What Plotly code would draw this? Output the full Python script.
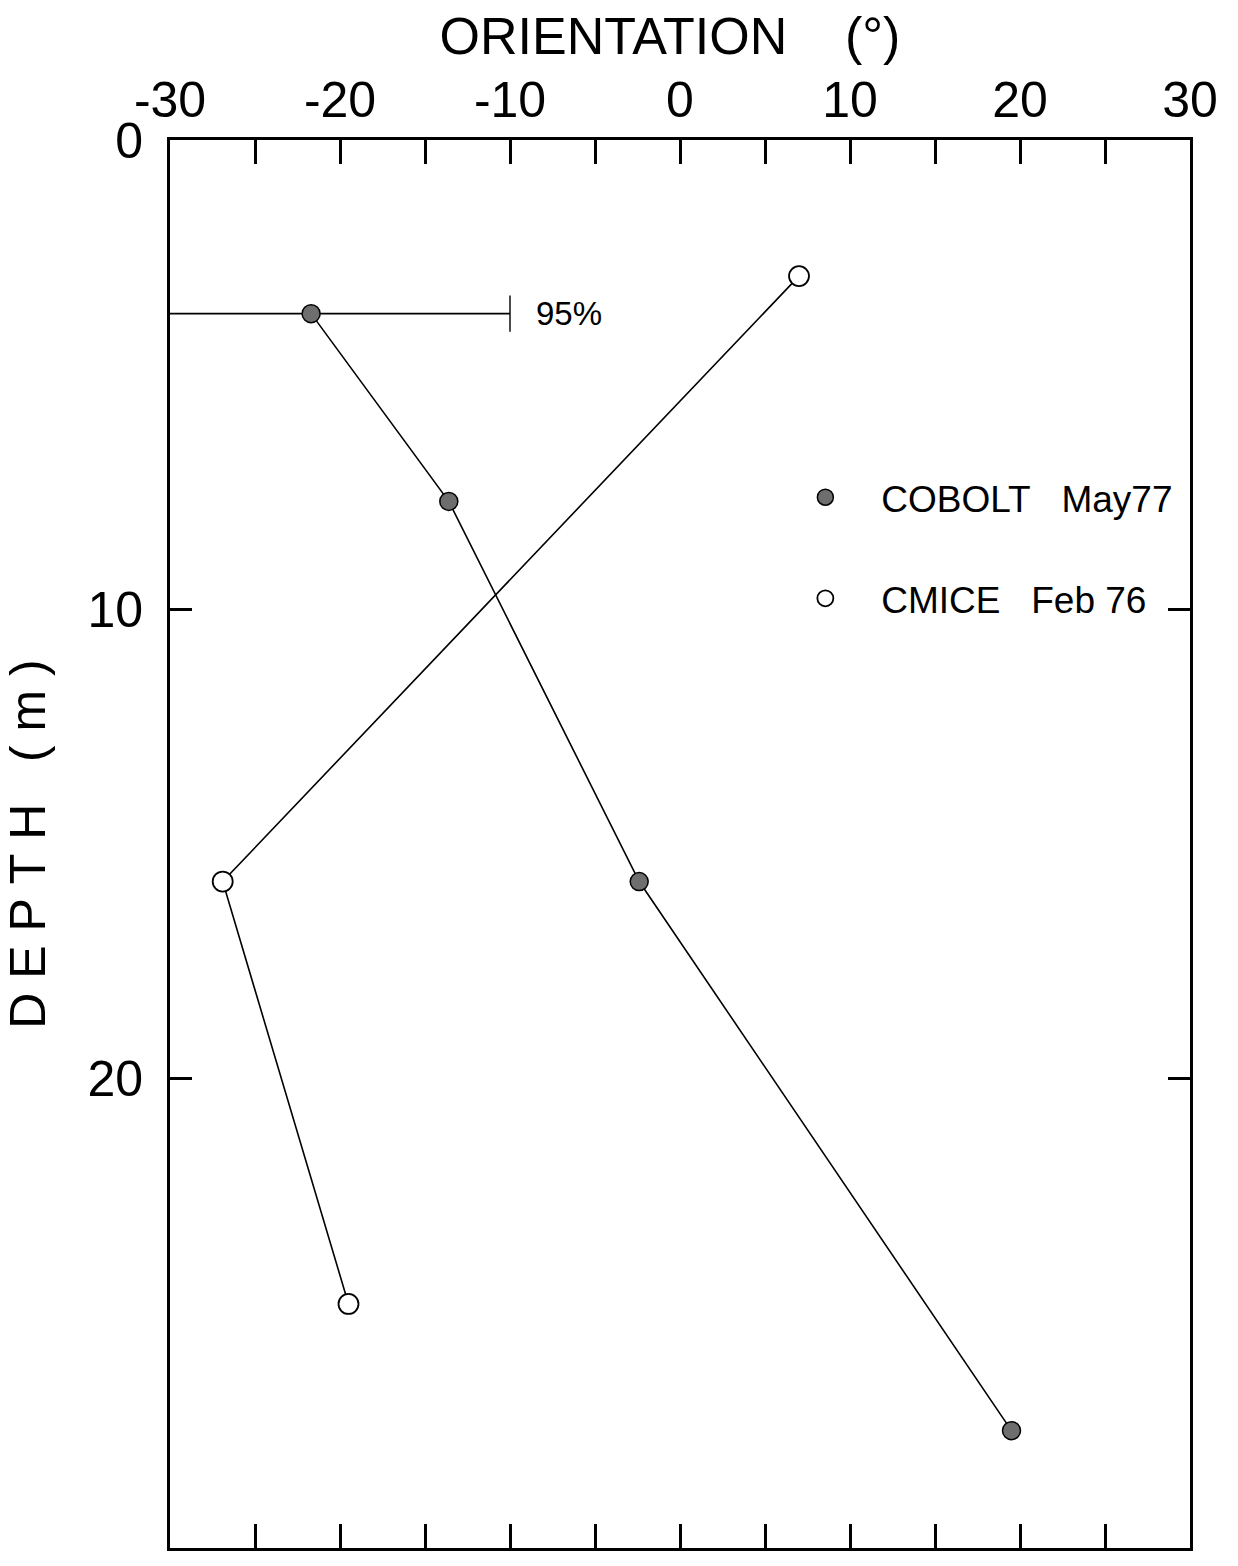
import plotly.graph_objects as go

# Ice orientation profiles versus depth
cobolt_orient = [-21.7, -13.6, -2.4, 19.5]
cobolt_depth = [3.7, 7.7, 15.8, 27.5]

cmice_orient = [7.0, -26.9, -19.5]
cmice_depth = [2.9, 15.8, 24.8]

# 95% confidence interval shown on the shallowest COBOLT point
ci_orient = [-30, -10]
ci_label = "95%"

x_ticks = list(range(-30, 31, 5))
x_labels = [str(v) if v % 10 == 0 else "" for v in x_ticks]
y_ticks = [0, 10, 20, 30]

FONT = "Liberation Sans"
NB = "\u00a0"

cobolt_name = NB * 3 + "COBOLT" + NB * 3 + "May77"
cmice_name = NB * 3 + "CMICE" + NB * 3 + "Feb" + NB + "76"

filled = dict(symbol="circle", size=18, color="#6e6e6e",
              line=dict(color="black", width=1.5))
hollow = dict(symbol="circle", size=20, color="white",
              line=dict(color="black", width=1.8))

fig = go.Figure()

# confidence bar with an end cap at the upper bound
fig.add_trace(go.Scatter(
    x=ci_orient, y=[cobolt_depth[0]] * len(ci_orient),
    mode="lines+markers",
    line=dict(color="black", width=1.6),
    marker=dict(symbol=["line-ns", "line-ns"], size=[0, 26],
                line=dict(color="black", width=2)),
    showlegend=False, hoverinfo="skip", cliponaxis=False,
))

fig.add_trace(go.Scatter(
    x=cobolt_orient, y=cobolt_depth,
    mode="lines+markers", name=cobolt_name, showlegend=False,
    line=dict(color="black", width=1.6), marker=filled,
    cliponaxis=False,
))

fig.add_trace(go.Scatter(
    x=cmice_orient, y=cmice_depth,
    mode="lines+markers", name=cmice_name, showlegend=False,
    line=dict(color="black", width=1.6), marker=hollow,
    cliponaxis=False,
))

# marker-only legend entries
fig.add_trace(go.Scatter(x=[None], y=[None], mode="markers", name=cobolt_name,
                         legendgroup="a", marker=filled))
fig.add_trace(go.Scatter(x=[None], y=[None], mode="markers", name=cmice_name,
                         legendgroup="b", marker=hollow))

fig.add_annotation(
    x=ci_orient[1], y=cobolt_depth[0], text=ci_label,
    showarrow=False, xanchor="left", yanchor="middle", xshift=24,
    font=dict(family=FONT, size=33, color="black"),
)

fig.update_layout(
    width=1238, height=1566,
    margin=dict(l=170, r=48, t=140, b=18),
    paper_bgcolor="white", plot_bgcolor="white",
    font=dict(family=FONT, color="black"),
    title=dict(
        text="ORIENTATION" + NB * 4 + "(°)",
        x=(420 + 920) / 2 / 1238, xanchor="center",
        y=1 - 36 / 1566, yanchor="middle",
        font=dict(family=FONT, size=52, color="black"),
    ),
    legend=dict(
        x=0.618, y=0.768, xanchor="left", yanchor="top",
        bgcolor="rgba(0,0,0,0)",
        font=dict(family=FONT, size=37, color="black"),
        tracegroupgap=50, itemwidth=40,
    ),
    showlegend=True,
)

fig.update_xaxes(
    side="top", range=[-30, 30],
    tickmode="array", tickvals=x_ticks, ticktext=x_labels,
    ticks="inside", ticklen=24, tickwidth=3, tickcolor="black",
    showline=True, linewidth=3, linecolor="black", mirror="ticks",
    showgrid=False, zeroline=False,
    tickfont=dict(family=FONT, size=50, color="black"),
)

fig.update_yaxes(
    range=[30, 0],
    tickmode="array", tickvals=y_ticks,
    ticks="inside", ticklen=22, tickwidth=3, tickcolor="black",
    showline=True, linewidth=3, linecolor="black", mirror="ticks",
    showgrid=False, zeroline=False, ticklabelstandoff=14,
    tickfont=dict(family=FONT, size=50, color="black"),
    title=dict(
        text="D" + NB + "E" + NB + "P" + NB + "T" + NB + "H" + NB * 3 + "(" + NB + "m" + NB + ")",
        font=dict(family=FONT, size=50, color="black"), standoff=30,
    ),
)

fig.write_html("out.html")
